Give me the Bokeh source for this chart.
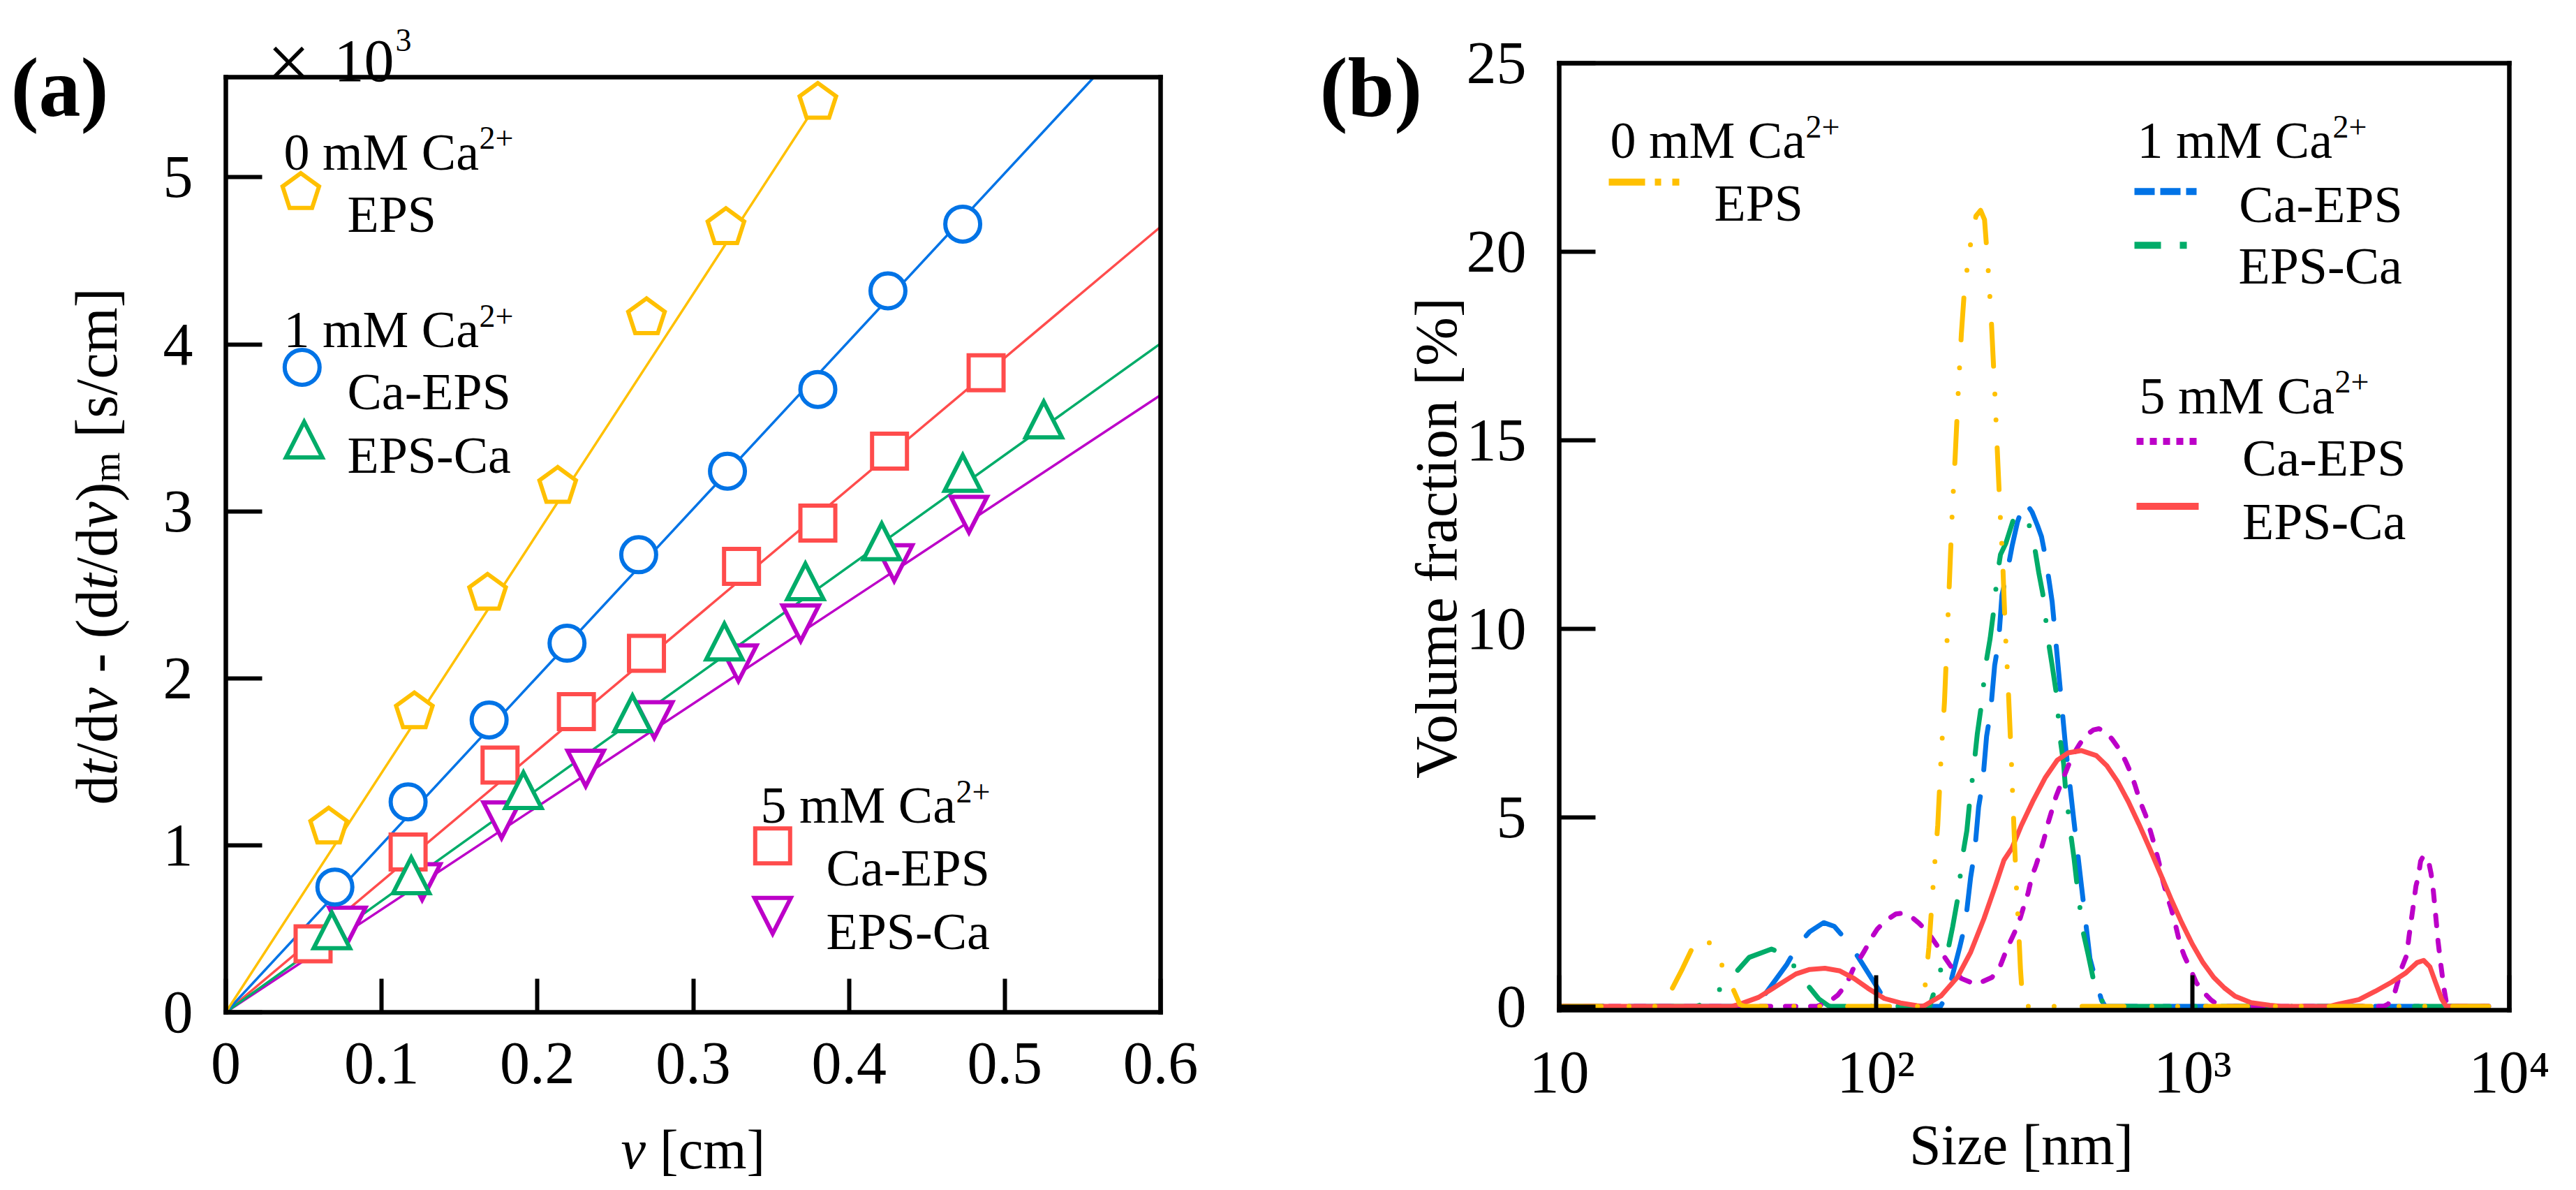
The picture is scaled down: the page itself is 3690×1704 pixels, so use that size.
import numpy as np
from bokeh.plotting import figure
from bokeh.layouts import row
from bokeh.models import Label, FixedTicker, Range1d, LinearAxis, LogAxis
from bokeh.embed import file_html
from bokeh.resources import INLINE

FONT = "Liberation Serif"
YEL, BLU, GRN, RED, PUR = "#FFC000", "#0073E6", "#00AC69", "#FF4C4C", "#BC00C8"

# ---------------- panel (a) data : v [cm] vs dt/dv - (dt/dv)m [x10^3 s/cm] ----------------
v_eps0 = [0.066, 0.121, 0.168, 0.213, 0.270, 0.321, 0.380]
y_eps0 = [1.11, 1.80, 2.51, 3.15, 4.16, 4.70, 5.45]
v_caeps1 = [0.070, 0.117, 0.169, 0.219, 0.265, 0.322, 0.380, 0.425, 0.473]
y_caeps1 = [0.75, 1.26, 1.75, 2.21, 2.74, 3.24, 3.73, 4.32, 4.72]
v_epsca1 = [0.068, 0.119, 0.191, 0.261, 0.320, 0.372, 0.421, 0.473, 0.525]
y_epsca1 = [0.49, 0.82, 1.33, 1.79, 2.22, 2.58, 2.82, 3.23, 3.55]
v_caeps5 = [0.056, 0.117, 0.176, 0.225, 0.270, 0.331, 0.380, 0.426, 0.488]
y_caeps5 = [0.41, 0.96, 1.48, 1.80, 2.15, 2.67, 2.93, 3.36, 3.83]
v_epsca5 = [0.078, 0.126, 0.177, 0.231, 0.275, 0.329, 0.369, 0.429, 0.477]
y_epsca5 = [0.52, 0.78, 1.15, 1.46, 1.75, 2.09, 2.33, 2.69, 2.98]
# linear fits through the origin (slope, end of drawn line)
fit_eps0 = (14.34, 0.382)
fit_caeps1 = (10.05, 0.600)
fit_epsca1 = (6.675, 0.600)
fit_caeps5 = (7.84, 0.600)
fit_epsca5 = (6.16, 0.600)

# ---------------- panel (b) data : size [nm] vs volume fraction [%] ----------------
size_eps0 = [10, 21, 22.5, 24.5, 26.5, 28.2, 30.4, 32.2, 34.8, 37.2, 38.5, 139, 141.7, 147, 152.3,
             156.8, 160.8, 164.6, 168.2, 172, 174.4, 177.9, 182.4, 186.1, 190, 195.3, 200.3, 207, 214,
             220.3, 225.9, 231.2, 237.1, 240.9, 246.6, 251.4, 256.4, 261.5, 267.5, 271.2, 277, 282.4,
             286, 290.8, 292, 8600]
vol_eps0 = [0, 0, 0.40, 1.0, 1.6, 1.86, 1.62, 1.2, 0.6, 0.05, 0, 0, 0.21, 1.57, 3.46,
            4.81, 6.7, 8.06, 9.95, 11.99, 13.22, 14.56, 16.47, 17.82, 18.9, 19.75, 20.37, 20.95, 21.1,
            20.85, 19.61, 18.25, 16.36, 15.0, 13.11, 11.76, 9.88, 8.51, 6.6, 5.26, 3.35, 1.99,
            1.0, 0.1, 0, 0]

size_caeps1 = [10, 40, 43.4, 52.2, 56.7, 61.8, 68.4, 73.9, 82.5, 90.5, 99.3, 108, 112, 160, 168.7,
               184.2, 191.5, 199.1, 205, 211, 217.3, 223.6, 230.1, 237.1, 244, 250, 260.4, 269.1,
               279.7, 294.9, 311.3, 323.6, 333.3, 343.1, 353.2, 360.1, 378, 396.7, 420.6, 446, 474,
               496, 516, 530, 8600]
vol_caeps1 = [0, 0, 0.18, 1.10, 1.62, 1.98, 2.22, 2.12, 1.66, 1.14, 0.6, 0.1, 0, 0, 0.35,
              1.59, 2.19, 3.42, 4.09, 5.29, 5.93, 7.16, 7.80, 9.04, 9.67, 10.9, 11.56, 12.2,
              12.83, 13.40, 13.1, 12.75, 12.45, 11.91, 11.21, 10.73, 8.82, 6.92, 5.01, 3.17, 1.27,
              0.65, 0.16, 0, 0]

size_epsca1 = [10, 27, 28.4, 31.4, 33.9, 35.4, 39.8, 46.8, 51.3, 55, 58.8, 66, 70.8, 72, 148, 151.7,
               159.3, 168.7, 174.7, 180.6, 187.8, 193.7, 197.2, 205, 208.9, 214.3, 222.8, 229.4,
               234.8, 241.6, 247.4, 257.3, 271.6, 288, 302.2, 311.2, 317.3, 326.7, 336.4, 349.9,
               360.1, 370.7, 381.8, 391.4, 396.7, 412.5, 422.3, 431.3, 450.1, 468, 486.4, 520.8,
               530, 8600]
vol_epsca1 = [0, 0, 0.06, 0.36, 0.67, 0.82, 1.3, 1.52, 1.38, 1.08, 0.72, 0.2, 0.02, 0, 0, 0.31,
              0.92, 1.48, 2.11, 2.79, 3.99, 4.66, 5.33, 6.56, 7.21, 7.87, 9.12, 9.75,
              10.41, 11.42, 11.98, 12.28, 12.9, 13.05, 12.85, 12.5, 12.15, 11.5, 10.94, 9.70,
              9.04, 8.33, 7.09, 6.44, 5.79, 4.55, 3.92, 3.24, 2.01, 1.37, 0.7, 0.1,
              0, 0]

size_caeps5 = [10, 65, 70.2, 75.8, 81, 84.6, 88.2, 92, 96.8, 101, 107.1, 115.6, 120.6, 129.1, 137,
               146.6, 155.5, 165, 173.8, 186.1, 207, 232.6, 246.6, 258.7, 274.3, 285.3, 293.7,
               302.2, 311.2, 320.3, 330, 339.6, 349.9, 360.1, 370.7, 385.3, 400.5, 416.5, 437.3,
               458.9, 486.4, 505.8, 530.9, 557.4, 590.9, 614.1, 638.6, 657.3, 683.5, 710.5,
               731.6, 760.3, 783.1, 806, 830, 854.4, 879.4, 914.5, 941.4, 988.5, 1027.3, 1078.6,
               1143.4, 1189, 1230, 4000, 4140, 4355, 4581, 4740, 4820, 4945, 5072, 5160, 5247,
               5363, 5567, 5662, 5757, 5857, 5957, 6079, 6214, 6322, 6400, 8600]
vol_caeps5 = [0, 0, 0.09, 0.3, 0.61, 0.98, 1.22, 1.47, 1.81, 2.05, 2.27, 2.45, 2.47, 2.38, 2.2,
              1.94, 1.63, 1.3, 1.02, 0.74, 0.58, 0.77, 1.06, 1.51, 1.97, 2.33, 2.68,
              3.0, 3.46, 3.74, 4.09, 4.44, 4.87, 5.22, 5.57, 5.93, 6.28, 6.63, 6.92,
              7.18, 7.33, 7.36, 7.28, 7.08, 6.78, 6.5, 6.18, 5.87, 5.42, 5.07,
              4.72, 4.23, 3.81, 3.32, 2.93, 2.61, 2.22, 1.62, 1.34, 0.95, 0.63, 0.39,
              0.17, 0.07, 0, 0, 0.06, 0.39, 1.04, 1.35, 1.84, 2.51, 3.19, 3.44, 3.85,
              4.0, 3.82, 3.52, 3.05, 2.39, 1.72, 1.10, 0.49, 0.12, 0, 0]

size_epsca5 = [10, 35, 37.2, 42.6, 48.8, 55.9, 61.8, 69, 77, 85.3, 94.4, 106.3, 119.6, 134.6, 140,
               142.9, 160.6, 180.7, 199.2, 219.4, 237.1, 253.8, 269, 288, 314.3, 342.9, 374.1,
               404.4, 445.9, 496.1, 536, 579.6, 626.5, 676.9, 731.6, 790.7, 854.4, 923.5, 998,
               1078.5, 1165.7, 1259.8, 1361.4, 1530, 1752, 1900, 2700, 2878, 3351, 3773, 4246,
               4699, 5114, 5363, 5612, 5857, 6109, 6322, 8600]
vol_epsca5 = [0, 0, 0.06, 0.24, 0.55, 0.86, 0.98, 1.01, 0.94, 0.74, 0.48, 0.21, 0.09, 0.02, 0,
              0.03, 0.28, 0.77, 1.44, 2.33, 3.14, 3.88, 4.2, 4.80, 5.47, 6.07, 6.53,
              6.72, 6.78, 6.65, 6.38, 5.96, 5.43, 4.83, 4.19, 3.52, 2.85, 2.22, 1.65,
              1.16, 0.77, 0.49, 0.27, 0.10, 0.03, 0, 0, 0.06, 0.18, 0.40, 0.64,
              0.88, 1.16, 1.22, 1.05, 0.62, 0.20, 0, 0]

x_ticks_a = [0, 0.1, 0.2, 0.3, 0.4, 0.5, 0.6]
x_labels_a = ["0", "0.1", "0.2", "0.3", "0.4", "0.5", "0.6"]
y_ticks_a = [0, 1, 2, 3, 4, 5]
x_ticks_b = [10, 100, 1000, 10000]
x_labels_b = ["10", "10\u00b2", "10\u00b3", "10\u2074"]
y_ticks_b = [0, 5, 10, 15, 20, 25]

# ---------------- geometry (page pixels) ----------------
A_L, A_T, A_R, A_B = 331, 118, 1670, 1457
B_L, B_T, B_R, B_B = 2241, 98, 3602, 1454
XA0, XA1, YA0, YA1 = 0.0, 0.6, 0.0, 5.6
XB0, XB1, YB0, YB1 = 10.0, 10000.0, -0.1, 25.0
PAGE_L, PAGE_T, PAGE_B = 8, 8, 1696
SPLIT, PAGE_R = 1800, 3682


def ax_(px):
    return XA0 + (px - A_L) / (A_R - A_L) * (XA1 - XA0)


def ay_(py):
    return YA0 + (A_B - py) / (A_B - A_T) * (YA1 - YA0)


def bx_(px):
    l0, l1 = np.log10(XB0), np.log10(XB1)
    return 10 ** (l0 + (px - B_L) / (B_R - B_L) * (l1 - l0))


def by_(py):
    return YB0 + (B_B - py) / (B_B - B_T) * (YB1 - YB0)


PXA_X = (XA1 - XA0) / (A_R - A_L)
PXA_Y = (YA1 - YA0) / (A_B - A_T)


def label(p, x, y, text, size, style="normal", align="left", baseline="alphabetic", angle=0.0):
    p.add_layout(Label(x=x, y=y, text=text, text_font=FONT, text_font_size=f"{size}px",
                       text_font_style=style, text_align=align, text_baseline=baseline,
                       angle=angle, text_color="black"))


def style_axis(axis, ticks, tin, stand, loc, bounds):
    axis.fixed_location = loc
    axis.bounds = bounds
    axis.ticker = FixedTicker(ticks=ticks, minor_ticks=[])
    axis.axis_line_color = "black"
    axis.axis_line_width = 6.5
    axis.axis_line_cap = "square"
    axis.major_tick_in = tin
    axis.major_tick_out = 0
    axis.major_tick_line_width = 6
    axis.major_tick_line_color = "black"
    axis.minor_tick_line_color = None
    axis.major_label_text_font = FONT
    axis.major_label_text_font_size = "86px"
    axis.major_label_text_color = "black"
    axis.major_label_standoff = stand


def box_axis(p, cls, side, loc, bounds):
    ax = cls(fixed_location=loc, bounds=bounds, ticker=FixedTicker(ticks=[], minor_ticks=[]),
             axis_line_color="black", axis_line_width=6.5, axis_line_cap="square",
             major_tick_line_color=None, minor_tick_line_color=None,
             major_label_text_font_size="0px", major_label_text_color=None)
    p.add_layout(ax, side)


def make_fig(x0, x1, y0, y1, width, log=False):
    kw = dict(x_axis_type="log") if log else {}
    p = figure(frame_width=width, frame_height=PAGE_B - PAGE_T,
               x_range=Range1d(x0, x1), y_range=Range1d(y0, y1),
               min_border_left=0, min_border_right=0, min_border_top=0, min_border_bottom=0,
               title_location=None, output_backend="svg", toolbar_location=None, **kw)
    p.background_fill_color = "white"
    p.border_fill_color = "white"
    p.outline_line_color = None
    p.xgrid.grid_line_color = None
    p.ygrid.grid_line_color = None
    return p


# ======================= panel (a) =======================
pa = make_fig(ax_(PAGE_L), ax_(SPLIT), ay_(PAGE_B), ay_(PAGE_T), SPLIT - PAGE_L)
style_axis(pa.xaxis[0], x_ticks_a, 48, 44, YA0, (XA0, XA1))
style_axis(pa.yaxis[0], y_ticks_a, 52, 47, XA0, (YA0, YA1))
pa.xaxis[0].major_label_overrides = {t: s for t, s in zip(x_ticks_a, x_labels_a)}
box_axis(pa, LinearAxis, "above", YA1, (XA0, XA1))
box_axis(pa, LinearAxis, "right", XA1, (YA0, YA1))

series_a = [
    (v_epsca5, y_epsca5, fit_epsca5, PUR, "itri"),
    (v_caeps5, y_caeps5, fit_caeps5, RED, "square"),
    (v_epsca1, y_epsca1, fit_epsca1, GRN, "tri"),
    (v_caeps1, y_caeps1, fit_caeps1, BLU, "circle"),
    (v_eps0, y_eps0, fit_eps0, YEL, "pent"),
]


def pent_xy(xc, yc, R=27.5):
    ang = np.deg2rad(90 + 72 * np.arange(5))
    return list(xc + R * np.cos(ang) * PXA_X), list(yc + R * np.sin(ang) * PXA_Y)


def tri_xy(xc, yc, up=True, hw=26.0, hh=25.5):
    s = 1.0 if up else -1.0
    xs = [xc - hw * PXA_X, xc + hw * PXA_X, xc]
    ys = [yc - s * hh * PXA_Y, yc - s * hh * PXA_Y, yc + s * hh * PXA_Y]
    return xs, ys


def draw_markers(p, xs, ys, color, kind):
    if kind in ("circle", "square"):
        p.scatter(xs, ys, marker=kind, size=50, fill_color="white", line_color=color,
                  line_width=6, line_join="miter")
    else:
        px, py = [], []
        for xc, yc in zip(xs, ys):
            if kind == "pent":
                a, b = pent_xy(xc, yc)
            else:
                a, b = tri_xy(xc, yc, up=(kind == "tri"))
            px.append(a)
            py.append(b)
        p.patches(px, py, fill_color="white", line_color=color, line_width=6, line_join="miter")


for xs, ys, (k, xend), color, kind in series_a:
    xe = min(xend, YA1 / k)
    xl = np.array([0.0, xe])
    pa.line(xl, k * xl, line_color=color, line_width=3.5)
for xs, ys, fit, color, kind in series_a:
    draw_markers(pa, xs, ys, color, kind)

# legend (a)
LEG = 74
SUP = 46


def ca_title(p, fx, fy, x_px, y_px, n):
    label(p, fx(x_px), fy(y_px), f"{n} mM Ca", LEG)
    label(p, fx(x_px + 280), fy(y_px - 20), "2+", SUP)


ca_title(pa, ax_, ay_, 414, 225, 0)
draw_markers(pa, [ax_(438.4)], [ay_(283)], YEL, "pent")
label(pa, ax_(505), ay_(314), "EPS", LEG)
ca_title(pa, ax_, ay_, 414, 479.5, 1)
draw_markers(pa, [ax_(440.3)], [ay_(533.5)], BLU, "circle")
label(pa, ax_(505), ay_(568.5), "Ca-EPS", LEG)
draw_markers(pa, [ax_(443.2)], [ay_(637)], GRN, "tri")
label(pa, ax_(505), ay_(659), "EPS-Ca", LEG)
ca_title(pa, ax_, ay_, 1097, 1160.7, 5)
draw_markers(pa, [ax_(1114.3)], [ay_(1218.8)], RED, "square")
label(pa, ax_(1191), ay_(1250), "Ca-EPS", LEG)
draw_markers(pa, [ax_(1114.3)], [ay_(1318.8)], PUR, "itri")
label(pa, ax_(1191), ay_(1341), "EPS-Ca", LEG)

# panel label, multiplier
label(pa, ax_(23), ay_(133), "(a)", 120, style="bold")
label(pa, ax_(421), ay_(96), "\u00d7", 110, align="center")
label(pa, ax_(486), ay_(95), "10", 86)
label(pa, ax_(574), ay_(65), "3", 46)

# y-axis title (a): dt/dv - (dt/dv)m [s/cm], built piece by piece
F, FSUB = 84, 55
pieces = [("d", "normal", F, 0, 500), ("t", "italic", F, 0, 278), ("/d", "normal", F, 0, 778),
          ("v", "italic", F, 0, 444), (None, None, F, 0, 250), ("-", "normal", F, 0, 333),
          (None, None, F, 0, 250), ("(d", "normal", F, 0, 833), ("t", "italic", F, 0, 278),
          ("/d", "normal", F, 0, 778), ("v", "italic", F, 0, 444), (")", "normal", F, 0, 333),
          ("m", "normal", FSUB, 14, 778), (None, None, F, 0, 250), ("[s/cm]", "normal", F, 0, 2555)]
ycur = 1160.0
for txt, sty, fs, shift, adv in pieces:
    if txt is not None:
        label(pa, ax_(146 + shift), ay_(ycur), txt, fs, style=sty, angle=np.pi / 2)
    ycur -= adv * fs / 1000.0

# x-axis title (a): v [cm]
label(pa, ax_(897), ay_(1653), "v", 80, style="italic")
label(pa, ax_(897 + (444 + 250) * 0.080), ay_(1653), "[cm]", 80)

# ======================= panel (b) =======================
pb = make_fig(bx_(SPLIT), bx_(PAGE_R), by_(PAGE_B), by_(PAGE_T), PAGE_R - SPLIT, log=True)
style_axis(pb.xaxis[0], x_ticks_b, 50, 40, YB0, (XB0, XB1))
style_axis(pb.yaxis[0], y_ticks_b, 52, 47, XB0, (YB0, YB1))
pb.xaxis[0].major_label_overrides = {t: s for t, s in zip(x_ticks_b, x_labels_b)}
box_axis(pb, LogAxis, "above", YB1, (XB0, XB1))
box_axis(pb, LinearAxis, "right", XB1, (YB0, YB1))

series_b = [
    (size_caeps1, vol_caeps1, BLU, "62 39"),
    (size_epsca1, vol_epsca1, GRN, "63 37 0 38"),
    (size_caeps5, vol_caeps5, PUR, "15 21"),
    (size_epsca5, vol_epsca5, RED, "solid"),
    (size_eps0, vol_eps0, YEL, "60 40 0 37 0 40"),
]
for xs, ys, color, dash in series_b:
    pb.line(xs, ys, line_color=color, line_width=7, line_dash=dash,
            line_cap="round", line_join="round")

# legend (b)
ca_title(pb, bx_, by_, 2314, 208.6, 0)
pb.line([bx_(2312), bx_(2413)], [by_(268.3)] * 2, line_color=YEL, line_width=10,
        line_dash="52 14 9 16 10 60", line_cap="butt")
label(pb, bx_(2463), by_(298), "EPS", LEG)
ca_title(pb, bx_, by_, 3069, 208.6, 1)
pb.line([bx_(3065), bx_(3154)], [by_(281.8)] * 2, line_color=BLU, line_width=10,
        line_dash="29 8", line_cap="butt")
label(pb, bx_(3214.8), by_(300.3), "Ca-EPS", LEG)
pb.line([bx_(3065), bx_(3140)], [by_(358.7)] * 2, line_color=GRN, line_width=10,
        line_dash="38 27 10 40", line_cap="butt")
label(pb, bx_(3214), by_(388), "EPS-Ca", LEG)
ca_title(pb, bx_, by_, 3072, 574, 5)
pb.line([bx_(3068), bx_(3154)], [by_(639.6)] * 2, line_color=PUR, line_width=10,
        line_dash="10 9", line_cap="butt")
label(pb, bx_(3219.5), by_(663.5), "Ca-EPS", LEG)
pb.line([bx_(3068), bx_(3157)], [by_(732.6)] * 2, line_color=RED, line_width=10, line_cap="butt")
label(pb, bx_(3219.5), by_(754), "EPS-Ca", LEG)

label(pb, bx_(1898), by_(133), "(b)", 120, style="bold")
label(pb, bx_(2065), by_(778), "Volume fraction [%]", 84, align="center", angle=np.pi / 2)
label(pb, bx_(2903), by_(1647), "Size [nm]", 82, align="center")

layout = row(pa, pb)
open("out.html", "w").write(file_html(layout, INLINE))
